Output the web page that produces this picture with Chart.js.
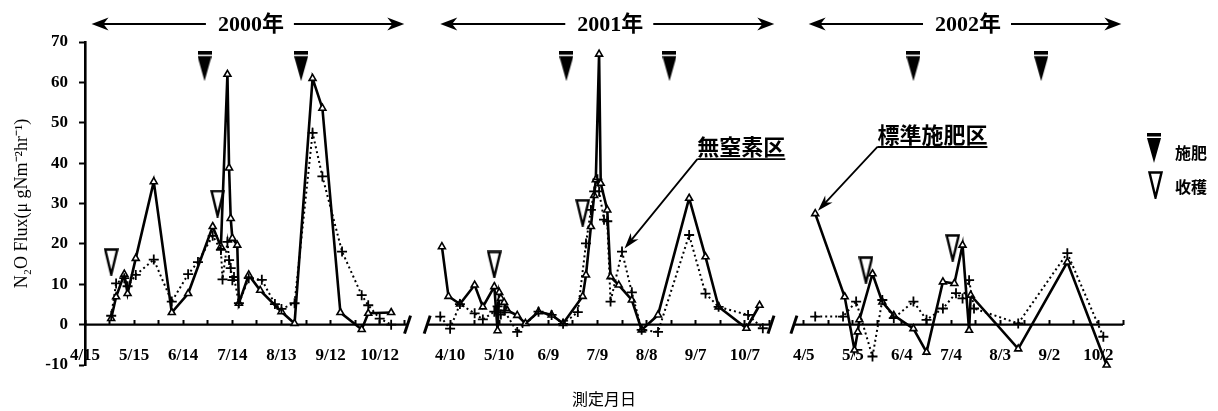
<!DOCTYPE html>
<html lang="ja">
<head>
<meta charset="UTF-8">
<title>N2O Flux 2000-2002</title>
<script src="https://cdn.jsdelivr.net/npm/chart.js"></script>
<style>
  html, body { margin: 0; padding: 0; background: #fff; }
</style>
</head>
<body>
<canvas id="fluxChart" width="1218" height="411"></canvas>
<script>
// ---- data (dates are M/D within each year) ----
const years = [2000, 2001, 2002];
const yearLabels = ['2000年', '2001年', '2002年'];

const ticks2000 = ['4/15', '5/15', '6/14', '7/14', '8/13', '9/12', '10/12'];
const ticks2001 = ['4/10', '5/10', '6/9', '7/9', '8/8', '9/7', '10/7'];
const ticks2002 = ['4/5', '5/5', '6/4', '7/4', '8/3', '9/2', '10/2'];

// 標準施肥区 (solid line, triangles)
const std2000Dates = ['5/1', '5/4', '5/9', '5/11', '5/16', '5/27', '6/7', '6/17', '7/2', '7/7', '7/11', '7/12', '7/13', '7/14', '7/17', '7/18', '7/24', '7/31', '8/13', '8/21', '9/1', '9/7', '9/18', '10/1', '10/5', '10/19'];
const std2000Values = [1.5, 6.9, 12.5, 7.7, 16.4, 35.4, 3.0, 7.7, 24.3, 19.3, 62, 38.8, 26.3, 21.4, 19.7, 5.3, 12.3, 8.5, 3.2, 0.3, 61, 53.6, 3.0, -1.2, 2.8, 3.0];
const std2001Dates = ['4/5', '4/9', '4/16', '4/25', '4/30', '5/7', '5/9', '5/10', '5/11', '5/13', '5/15', '5/21', '5/26', '6/3', '6/11', '6/18', '6/30', '7/2', '7/5', '7/7', '7/8', '7/10', '7/11', '7/15', '7/17', '7/22', '7/30', '8/5', '8/15', '9/3', '9/13', '9/21', '10/8', '10/16'];
const std2001Values = [19.3, 7.0, 5.1, 9.8, 4.4, 9.4, -1.5, 8, 6.5, 5.5, 3.5, 2.3, 0.3, 3.2, 2.4, 0.3, 7.0, 12.3, 24.3, 32, 35.9, 67, 35, 28.4, 11.9, 9.8, 6.1, -1.3, 2.4, 31.3, 16.8, 4.4, -0.9, 4.8];
const std2002Dates = ['4/12', '4/30', '5/6', '5/8', '5/9', '5/17', '5/23', '5/30', '6/11', '6/19', '6/29', '7/6', '7/11', '7/15', '7/16', '8/14', '9/13', '10/7'];
const std2002Values = [27.5, 6.9, -6.3, -1.8, 1.2, 12.6, 5.6, 2.3, -1, -6.8, 10.6, 10.2, 19.7, -1.4, 7.3, -6, 15.5, -10];

// 無窒素区 (dotted line, crosses)
const non2000Dates = ['5/1', '5/4', '5/9', '5/11', '5/16', '5/27', '6/7', '6/17', '6/23', '7/2', '7/7', '7/8', '7/11', '7/12', '7/13', '7/14', '7/15', '7/18', '7/24', '8/1', '8/9', '8/13', '8/21', '9/1', '9/7', '9/19', '10/1', '10/5', '10/12', '10/19'];
const non2000Values = [2.2, 10.2, 11.5, 9.5, 12.3, 16.1, 5.7, 12.5, 15.5, 22, 18.5, 11.2, 20.5, 16, 14, 11, 11.8, 5.3, 11.5, 11.1, 5.1, 3.9, 5.3, 47.5, 36.7, 18.1, 7.3, 4.8, 1.5, 0];
const non2001Dates = ['4/4', '4/10', '4/16', '4/25', '4/30', '5/7', '5/9', '5/11', '5/13', '5/21', '6/3', '6/11', '6/18', '6/27', '7/2', '7/5', '7/7', '7/9', '7/10', '7/13', '7/15', '7/17', '7/24', '7/30', '8/5', '8/15', '9/3', '9/13', '9/21', '10/9', '10/18'];
const non2001Values = [2.0, -1, 5.1, 2.8, 1.3, 3.2, 4.5, 2.5, 3.5, -1.8, 3.2, 2.4, 0.2, 3.1, 20.1, 28.4, 33, 36, 33, 26, 25.6, 5.7, 18.1, 8, -1.3, -1.8, 22.2, 7.7, 4.4, 2.4, -0.9];
const non2002Dates = ['4/12', '4/29', '5/7', '5/17', '5/23', '5/30', '6/11', '6/19', '6/29', '7/7', '7/11', '7/15', '7/18', '8/14', '9/13', '10/5'];
const non2002Values = [2.0, 2.0, 5.7, -7.9, 6.1, 1.6, 5.7, 1.2, 4.0, 7.8, 6.5, 11, 4.0, 0.3, 17.7, -3];

// 施肥 / 收穫 events
const fert2000 = ['6/27', '8/25'];
const fert2001 = ['6/20', '8/22'];
const fert2002 = ['6/11', '8/28'];
const fertLevel = 64;
const harvest2000 = ['5/1', '7/5'];
const harvest2001 = ['5/7', '6/30'];
const harvest2002 = ['5/13', '7/5'];
const harvestLevel2000 = [15.5, 30];
const harvestLevel2001 = [14.9, 27.7];
const harvestLevel2002 = [13.5, 19];

// ---- axis layout: three broken segments on one day axis ----
const tickSets = [ticks2000, ticks2001, ticks2002];
const segOffset = [0, 223, 439];
const segRange = [[0, 197], [-14, 196], [-6, 195]];
const yearSpan = [['4/19', '10/27'], ['4/4', '10/25'], ['4/8', '10/16']];

const serif = "'Liberation Serif', 'Times New Roman', serif";
const gothic = "'Noto Sans CJK JP', sans-serif";

function dayNo(year, md) {
    const p = md.split('/');
    return Date.UTC(year, +p[0] - 1, +p[1]) / 86400000;
}
function xPos(seg, md) {
    return segOffset[seg] + dayNo(years[seg], md) - dayNo(years[seg], tickSets[seg][0]);
}
function toPoints(seg, dates, values) {
    return dates.map((d, i) => ({ x: xPos(seg, d), y: values[i] }));
}

// ticks every 15 days, labels every 30
const xTicks = [];
const xTickText = new Map();
segRange.forEach((r, s) => {
    for (let k = Math.ceil(r[0] / 15); k <= Math.floor(r[1] / 15); k++) {
        const v = segOffset[s] + k * 15;
        xTicks.push({ value: v });
        if (k >= 0 && k % 2 === 0 && k / 2 < tickSets[s].length) xTickText.set(v, tickSets[s][k / 2]);
    }
});

// marker images
function makeFertIcon() {
    const c = document.createElement('canvas');
    c.width = 14; c.height = 30;
    const g = c.getContext('2d');
    g.fillStyle = '#000';
    g.fillRect(0, 0, 14, 3.5);
    g.beginPath();
    g.moveTo(0, 5); g.lineTo(14, 5); g.lineTo(7, 30);
    g.closePath(); g.fill();
    return c;
}
function makeHarvestIcon() {
    const c = document.createElement('canvas');
    c.width = 15; c.height = 28;
    const g = c.getContext('2d');
    g.strokeStyle = '#000';
    g.lineWidth = 2.4;
    g.beginPath();
    g.moveTo(1.5, 1.5); g.lineTo(13.5, 1.5); g.lineTo(7.5, 26.5);
    g.closePath(); g.stroke();
    return c;
}
const fertIcon = makeFertIcon();
const harvestIcon = makeHarvestIcon();

function stdSet(seg, dates, values) {
    return {
        label: '標準施肥区', data: toPoints(seg, dates, values),
        borderColor: '#000', borderWidth: 2.6, tension: 0,
        pointStyle: 'triangle', pointRadius: 4,
        pointBackgroundColor: '#fff', pointBorderColor: '#000', pointBorderWidth: 1.6
    };
}
function nonSet(seg, dates, values) {
    return {
        label: '無窒素区', data: toPoints(seg, dates, values),
        borderColor: '#000', borderWidth: 2, borderDash: [2, 3], tension: 0,
        pointStyle: 'cross', pointRadius: 5,
        pointBorderColor: '#000', pointBorderWidth: 1.8
    };
}

const fertPoints = [fert2000, fert2001, fert2002]
    .flatMap((dates, s) => dates.map(d => ({ x: xPos(s, d), y: fertLevel })));
const harvestPoints = [
    ...toPoints(0, harvest2000, harvestLevel2000),
    ...toPoints(1, harvest2001, harvestLevel2001),
    ...toPoints(2, harvest2002, harvestLevel2002)
];

// callouts: label, segment, underline start, arrow target
const callouts = [
    { text: '無窒素区', seg: 1, from: ['9/8', 41], to: ['7/24', 18.1] },
    { text: '標準施肥区', seg: 2, from: ['5/20', 44], to: ['4/12', 27.5] }
];

function arrowHead(ctx, tx, ty, fx, fy, len, half) {
    const a = Math.atan2(ty - fy, tx - fx);
    ctx.save();
    ctx.translate(tx, ty);
    ctx.rotate(a);
    ctx.beginPath();
    ctx.moveTo(0, 0);
    ctx.lineTo(-len, -half);
    ctx.lineTo(-len * 0.7, 0);
    ctx.lineTo(-len, half);
    ctx.closePath();
    ctx.fill();
    ctx.restore();
}

const decor = {
    id: 'decor',
    beforeDatasetsDraw(chart) {
        const { ctx } = chart;
        const xs = chart.scales.x, ys = chart.scales.y;
        const y0 = ys.getPixelForValue(0);
        ctx.save();
        ctx.strokeStyle = '#000';
        ctx.lineWidth = 2.2;
        segRange.forEach((r, s) => {
            ctx.beginPath();
            ctx.moveTo(xs.getPixelForValue(segOffset[s] + r[0]), y0);
            ctx.lineTo(xs.getPixelForValue(segOffset[s] + r[1]), y0);
            ctx.stroke();
        });
        // break marks
        ctx.lineWidth = 3;
        [[0, 1], [1, 0], [1, 1], [2, 0]].forEach(([s, e]) => {
            const x = xs.getPixelForValue(segOffset[s] + segRange[s][e]);
            ctx.beginPath();
            ctx.moveTo(x - 3, y0 + 9);
            ctx.lineTo(x + 3, y0 - 9);
            ctx.stroke();
        });
        ctx.restore();
    },
    afterDatasetsDraw(chart) {
        const { ctx, chartArea } = chart;
        const xs = chart.scales.x, ys = chart.scales.y;
        ctx.save();
        ctx.fillStyle = '#000';
        ctx.strokeStyle = '#000';

        // year arrows
        const ay = 24;
        ctx.font = `bold 22px 'Liberation Serif', ${gothic}`;
        ctx.textAlign = 'center';
        ctx.textBaseline = 'middle';
        ctx.lineWidth = 2;
        yearSpan.forEach((span, s) => {
            const a = xs.getPixelForValue(xPos(s, span[0]));
            const b = xs.getPixelForValue(xPos(s, span[1]));
            const mid = (a + b) / 2 + 3;
            const w = ctx.measureText(yearLabels[s]).width;
            ctx.fillText(yearLabels[s], mid, ay + 1);
            ctx.beginPath();
            ctx.moveTo(a + 6, ay); ctx.lineTo(mid - w / 2 - 12, ay);
            ctx.moveTo(mid + w / 2 + 10, ay); ctx.lineTo(b - 6, ay);
            ctx.stroke();
            arrowHead(ctx, a, ay, a + 20, ay, 17, 6.5);
            arrowHead(ctx, b, ay, b - 20, ay, 17, 6.5);
        });

        // x axis title, centred under the plot area
        ctx.font = `16px ${gothic}`;
        ctx.fillText('測定月日', (chartArea.left + chartArea.right) / 2, 399);

        // callouts
        ctx.font = `bold 22px ${gothic}`;
        ctx.textAlign = 'left';
        ctx.textBaseline = 'alphabetic';
        callouts.forEach(c => {
            const fx = xs.getPixelForValue(xPos(c.seg, c.from[0]));
            const fy = ys.getPixelForValue(c.from[1]);
            const px = xs.getPixelForValue(xPos(c.seg, c.to[0]));
            const py = ys.getPixelForValue(c.to[1]);
            const ang = Math.atan2(fy - py, fx - px);
            const tx = px + Math.cos(ang) * 4, ty = py + Math.sin(ang) * 4;
            const w = ctx.measureText(c.text).width;
            ctx.fillText(c.text, fx, fy - 4);
            ctx.lineWidth = 1.8;
            ctx.beginPath();
            ctx.moveTo(fx, fy); ctx.lineTo(fx + w, fy);
            ctx.moveTo(fx, fy); ctx.lineTo(tx + Math.cos(ang) * 10, ty + Math.sin(ang) * 10);
            ctx.stroke();
            arrowHead(ctx, tx, ty, fx, fy, 16, 5);
        });

        // legend for the event markers
        const lx = chartArea.right + 31;
        ctx.drawImage(fertIcon, lx - 7, 133);
        ctx.drawImage(harvestIcon, lx - 6, 171);
        ctx.font = `bold 16px ${gothic}`;
        ctx.textBaseline = 'middle';
        ctx.fillText('施肥', lx + 21, 153);
        ctx.fillText('收穫', lx + 21, 187);
        ctx.restore();
    }
};

new Chart(document.getElementById('fluxChart'), {
    type: 'line',
    data: {
        datasets: [
            nonSet(0, non2000Dates, non2000Values),
            nonSet(1, non2001Dates, non2001Values),
            nonSet(2, non2002Dates, non2002Values),
            stdSet(0, std2000Dates, std2000Values),
            stdSet(1, std2001Dates, std2001Values),
            stdSet(2, std2002Dates, std2002Values),
            { label: '施肥', data: fertPoints, showLine: false, pointStyle: fertIcon, pointRadius: 6 },
            { label: '收穫', data: harvestPoints, showLine: false, pointStyle: harvestIcon, pointRadius: 6 }
        ]
    },
    options: {
        responsive: false,
        animation: false,
        clip: false,
        layout: { padding: { left: 0, right: 95, top: 42, bottom: 46 } },
        plugins: { legend: { display: false }, tooltip: { enabled: false } },
        scales: {
            x: {
                type: 'linear',
                min: 0,
                max: 634,
                position: { y: 0 },
                afterBuildTicks: (scale) => { scale.ticks = xTicks.map(t => ({ value: t.value })); },
                grid: { display: true, drawOnChartArea: false, drawTicks: true, tickLength: -5, tickWidth: 2, tickColor: '#000' },
                border: { display: false },
                ticks: {
                    autoSkip: false, maxRotation: 0, padding: 26, color: '#000',
                    font: { family: serif, size: 17, weight: 'bold' },
                    callback: (v) => xTickText.get(v) || ''
                }
            },
            y: {
                min: -10,
                max: 70,
                afterFit: (scale) => { scale.width = 85; },
                grid: { display: true, drawOnChartArea: false, drawTicks: true, tickLength: 6, tickWidth: 2, tickColor: '#000' },
                border: { display: true, color: '#000', width: 2.6 },
                ticks: {
                    stepSize: 10, padding: 11, color: '#000',
                    font: { family: serif, size: 17, weight: 'bold' }
                },
                title: {
                    display: true, text: 'N₂O Flux(μ gNm⁻²hr⁻¹)', color: '#000',
                    font: { family: serif, size: 18 },
                    padding: { top: 11, bottom: 0 }
                }
            }
        }
    },
    plugins: [decor]
});
</script>
</body>
</html>
